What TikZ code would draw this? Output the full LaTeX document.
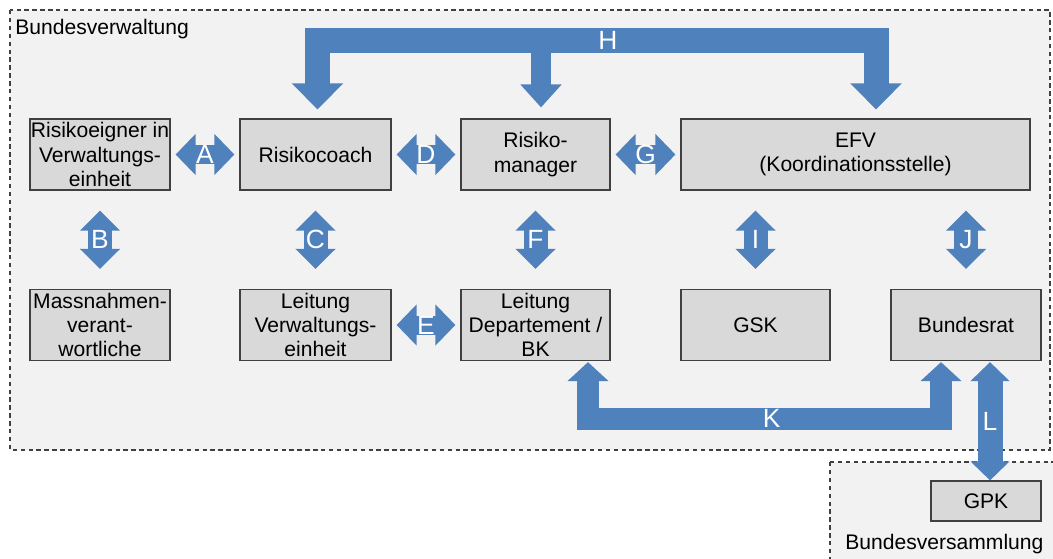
\documentclass[tikz,border=0pt]{standalone}
\usepackage{fontspec}
\setmainfont{Liberation Sans}
\usepackage{tikz}
\usetikzlibrary{positioning,calc,arrows.meta}
\definecolor{myblue}{RGB}{79,129,189}
\definecolor{boxgray}{RGB}{217,217,217}
\definecolor{bggray}{RGB}{242,242,242}
\definecolor{framegray}{RGB}{64,64,64}
\tikzset{
  basic/.style   = {draw=framegray, line width=0.7pt, fill=boxgray, align=center,
                    inner sep=0pt, font=\fontsize{12}{13.8}\selectfont},
  unit/.style    = {basic, minimum height=1.42cm},
  area/.style    = {draw=framegray, fill=bggray, dash pattern=on 2.5pt off 2pt,
                    line width=0.6pt},
  areatitle/.style = {anchor=base west, inner sep=0pt, font=\fontsize{12}{14}\selectfont},
  hdbl/.style    = {draw=myblue, line width=0.38cm, >={Triangle[length=0.4cm,width=0.8cm]},
                    <->, shorten <=0.1cm, shorten >=0.1cm},
  vdbl/.style    = {draw=myblue, line width=0.48cm, >={Triangle[length=0.4cm,width=0.78cm]},
                    <->, shorten <=0.4cm, shorten >=0.4cm},
  ldbl/.style    = {draw=myblue, line width=0.5cm, >={Triangle[length=0.38cm,width=0.76cm]},
                    <->},
  hbracket/.style = {draw=myblue, line width=0.5cm, >={Triangle[length=0.52cm,width=1cm]},
                    <->},
  hsingle/.style = {draw=myblue, line width=0.4cm, >={Triangle[length=0.46cm,width=0.8cm]},
                    ->},
  kbracket/.style = {draw=myblue, line width=0.44cm, >={Triangle[length=0.38cm,width=0.8cm]},
                    <->},
  lbl/.style     = {text=white, inner sep=0pt, font=\fontsize{15}{15}\selectfont}
}

\begin{document}
\begin{tikzpicture}[x=0.02cm,y=0.02cm]
  \useasboundingbox (0,0) rectangle (1053,-558);
  \clip (0,0) rectangle (1053,-558);

  % areas
  \draw[area] (10,-10) rectangle (1050,-450);
  \draw[area] (830,-462) rectangle (1070,-580);
  \node[areatitle] (bvw) at (15,-34) {Bundesverwaltung};
  \node[areatitle] (bvs) at (845,-549) {Bundesversammlung};

  % upper row
  \node[unit, minimum width=2.8cm]  (owner) at (100,-154.5)   {Risikoeigner in\\Verwaltungs-\\einheit};
  \node[unit, minimum width=3.02cm] (coach) at (315.5,-154.5) {Risikocoach};
  \node[unit, minimum width=2.98cm] (mgr)   at (535.5,-154.5) {Risiko-\\manager};
  \node[unit, minimum width=6.98cm] (efv)   at (855.5,-154.5) {EFV\\(Koordinationsstelle)};

  % lower row
  \node[unit, minimum width=2.8cm]  (actors) at (100,-325)   {Massnahmen-\\verant-\\wortliche};
  \node[unit, minimum width=3.02cm] (lvw)    at (315.5,-325) {Leitung\\Verwaltungs-\\einheit};
  \node[unit, minimum width=2.98cm] (ldep)   at (535.5,-325) {Leitung\\Departement /\\BK};
  \node[unit, minimum width=2.98cm] (gsk)    at (755.5,-325) {GSK};
  \node[unit, minimum width=3cm]    (brat)   at (966,-325)   {Bundesrat};

  \node[basic, minimum width=2.2cm, minimum height=0.8cm] (gpk) at (986,-501) {GPK};

  % horizontal links
  \draw[hdbl] (owner) -- (coach) node[lbl, midway] {A};
  \draw[hdbl] (coach) -- (mgr)   node[lbl, midway] {D};
  \draw[hdbl] (mgr)   -- (efv)   node[lbl, midway] {G};
  \draw[hdbl] (lvw)   -- (ldep)  node[lbl, midway] {E};

  % vertical links
  \draw[vdbl] (owner) -- (actors) node[lbl, midway] {B};
  \draw[vdbl] (coach) -- (lvw)    node[lbl, midway] {C};
  \draw[vdbl] (mgr)   -- (ldep)   node[lbl, midway] {F};
  \draw[vdbl] (gsk.north)  -- (gsk.north |- efv.south)  node[lbl, midway] {I};
  \draw[vdbl] (brat.north) -- (brat.north |- efv.south) node[lbl, midway] {J};

  % H bracket
  \draw[hbracket] ($(coach.north)+(2,9)$) |- ($(efv.north)+(20.5,77.5)$) node[lbl, pos=0.76] {H}
                  -- ($(efv.north)+(20.5,9)$);
  \draw[hsingle] ($(mgr.north)+(5.5,77.5)$) -- ($(mgr.north)+(5.5,11)$);

  % K bracket
  \draw[kbracket] ($(ldep.south)+(52.5,-1)$) |- ($(brat.south)+(-25,-57.5)$) node[lbl, pos=0.76] {K}
                  -- ($(brat.south)+(-25,-1)$);

  % L link
  \coordinate (ltop) at ($(brat.south)+(24,-1)$);
  \draw[ldbl] (ltop) -- (ltop |- gpk.north) node[lbl, midway] {L};
\end{tikzpicture}
\end{document}
